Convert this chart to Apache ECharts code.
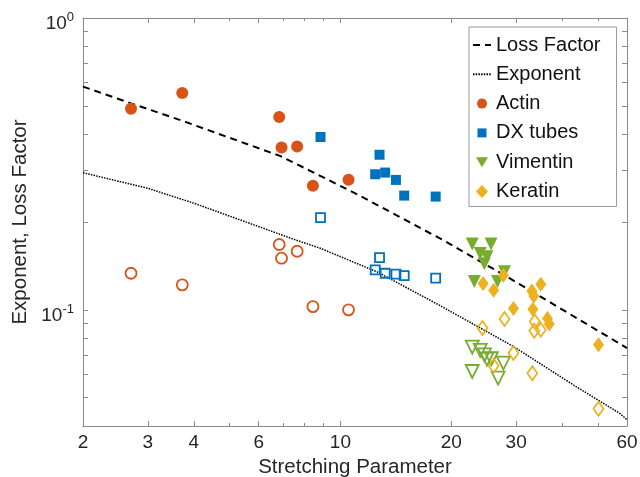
<!DOCTYPE html>
<html>
<head>
<meta charset="utf-8">
<script src="https://cdn.jsdelivr.net/npm/echarts@6/dist/echarts.min.js"></script>
<style>
html,body{margin:0;padding:0;background:#fff;}
#chart{width:640px;height:477px;}
</style>
</head>
<body>
<div id="chart"></div>
<script>
// ---- data ----
const xTickLabels = [2, 3, 4, 6, 10, 20, 30, 60];
const xMajorTicks = [3, 4, 6, 10, 20, 30];
const xMinorTicks = [5, 7, 8, 9, 40, 50];
const yTickValues = [0.05, 0.06, 0.07, 0.08, 0.09, 0.1, 0.2, 0.3, 0.4, 0.5, 0.6, 0.7, 0.8, 0.9];
const yTickLabels = [0.1, 1];

const lossX = [2, 2.7, 3.71, 6.85, 8.81, 11.3, 18.9, 28.3, 43, 60];
const lossY = [0.582, 0.51, 0.445, 0.337, 0.288, 0.246, 0.174, 0.130, 0.095, 0.074];
const expX = [2, 3, 4, 7.46, 8.81, 12.57, 18.5, 29.5, 43, 57.5, 60];
const expY = [0.295, 0.261, 0.232, 0.1746, 0.1626, 0.135, 0.104, 0.0749, 0.0552, 0.0441, 0.042];

const actinX = [2.70, 3.72, 6.82, 6.92, 7.63, 8.42, 10.52];
const actinLoss = [0.489, 0.553, 0.458, 0.360, 0.363, 0.266, 0.279];
const actinExp = [0.1335, 0.1218, 0.1675, 0.1503, 0.1588, 0.1026, 0.100];

const dxX = [8.83, 12.77, 12.43, 13.23, 14.15, 14.9, 18.14];
const dxLoss = [0.391, 0.340, 0.2915, 0.2954, 0.2788, 0.2463, 0.2444];
const dxExp = [0.207, 0.151, 0.137, 0.1335, 0.1325, 0.131, 0.1284];

const vimLossX = [22.8, 25.65, 23.97, 25.0, 24.6, 27.9, 23.1, 26.7];
const vimLoss = [0.168, 0.168, 0.156, 0.152, 0.144, 0.135, 0.125, 0.125];
const vimExpX = [22.8, 23.97, 24.6, 25.0, 25.7, 27.7, 22.8, 26.8];
const vimExp = [0.0745, 0.0726, 0.0701, 0.0678, 0.068, 0.0657, 0.0615, 0.0584];

const kerLossX = [24.4, 26.06, 27.7, 35.0, 33.1, 33.5, 33.3, 29.5, 36.5, 36.9, 50.2];
const kerLoss = [0.123, 0.1168, 0.1315, 0.1225, 0.116, 0.1115, 0.1005, 0.101, 0.0935, 0.0895, 0.0759];
const kerExpX = [24.3, 27.9, 33.7, 33.6, 35.0, 29.5, 26.06, 33.2, 50.2];
const kerExp = [0.0866, 0.0931, 0.0912, 0.0848, 0.0854, 0.0711, 0.0643, 0.0607, 0.0458];

// ---- styling ----
const C_ACTIN = '#D95319', C_DX = '#0072BD', C_VIM = '#77AC30', C_KER = '#EDB120';
const TXT = '#262626', AX = '#8a8a8a';
const FONT = 'Liberation Sans, Arial, sans-serif';

function zip(xs, ys) { return xs.map((x, i) => [x, ys[i]]); }

function xAx(pos, ticks, len, labels) {
  return {
    type: 'log', min: 2, max: 60, position: pos, gridIndex: 0,
    axisLine: { show: true, onZero: false, lineStyle: { color: AX, width: 1 } },
    axisTick: { show: true, inside: true, length: len, customValues: ticks, lineStyle: { color: AX } },
    axisLabel: labels ? {
      show: true, customValues: xTickLabels, fontSize: 19, color: TXT, fontFamily: FONT, margin: 7,
      formatter: v => String(Math.round(v))
    } : { show: false },
    splitLine: { show: false }, minorTick: { show: false }
  };
}
function yAx(pos, labels) {
  return {
    type: 'log', min: 0.04, max: 1, position: pos, gridIndex: 0,
    axisLine: { show: true, onZero: false, lineStyle: { color: AX, width: 1 } },
    axisTick: { show: true, inside: true, length: 5, customValues: yTickValues, lineStyle: { color: AX } },
    axisLabel: labels ? {
      show: true, customValues: yTickLabels, margin: 9, fontFamily: FONT, color: TXT,
      padding: [8, 0, 0, 0],
      formatter: v => Math.abs(v - 1) < 1e-9 ? '{b|10}{s|0}' : '{b|10}{s|-1}',
      rich: {
        b: { fontSize: 19, color: TXT, fontFamily: FONT, lineHeight: 22, verticalAlign: 'bottom' },
        s: { fontSize: 13, color: TXT, fontFamily: FONT, lineHeight: 22, verticalAlign: 'top' }
      }
    } : { show: false },
    splitLine: { show: false }, minorTick: { show: false }
  };
}

const xAxes = [xAx('bottom', xMajorTicks, 5, true), xAx('top', xMajorTicks, 5, false),
  xAx('bottom', xMinorTicks, 3, false), xAx('top', xMinorTicks, 3, false)];
Object.assign(xAxes[0], {
  name: 'Stretching Parameter', nameLocation: 'middle', nameGap: 27,
  nameTextStyle: { fontSize: 20.5, color: TXT, fontFamily: FONT }
});
xAxes[2].axisLine.show = false; xAxes[3].axisLine.show = false;

const yAxes = [yAx('left', true), yAx('right', false)];
Object.assign(yAxes[0], {
  name: 'Exponent, Loss Factor', nameLocation: 'middle', nameGap: 47,
  nameTextStyle: { fontSize: 20.5, color: TXT, fontFamily: FONT }
});

function filled(name, xs, ys, color, symbol, size, rot) {
  return {
    name, type: 'scatter', data: zip(xs, ys), symbol, symbolSize: size, symbolRotate: rot || 0,
    itemStyle: { color, opacity: 1 }, z: 4, xAxisIndex: 0, yAxisIndex: 0
  };
}
function open(name, xs, ys, color, symbol, size, rot) {
  return {
    name, type: 'scatter', data: zip(xs, ys), symbol, symbolSize: size, symbolRotate: rot || 0,
    itemStyle: { color: 'rgba(255,255,255,0)', borderColor: color, borderWidth: 1.8, opacity: 1 },
    z: 4, xAxisIndex: 0, yAxisIndex: 0
  };
}

// legend icon shapes inside an 18x14 box (corner moves fix the box)
const BOX = 'M0,0M18,14';
const option = {
  animation: false,
  backgroundColor: '#fff',
  grid: { left: 83, right: 13, top: 18, bottom: 51, containLabel: false, outerBoundsMode: 'none' },
  xAxis: xAxes,
  yAxis: yAxes,
  legend: {
    data: [
      { name: 'Loss Factor' },
      { name: 'Exponent' },
      { name: 'Actin', icon: 'path://' + BOX + 'M4,7a5,5 0 1,0 10,0a5,5 0 1,0 -10,0Z' },
      { name: 'DX tubes', icon: 'path://' + BOX + 'M4.5,2.5L13.5,2.5L13.5,11.5L4.5,11.5Z' },
      { name: 'Vimentin', icon: 'path://' + BOX + 'M3,2L15,2L9,12Z' },
      { name: 'Keratin', icon: 'path://' + BOX + 'M9,0.5L15,7L9,13.5L3,7Z' }
    ],
    orient: 'vertical', left: 469, top: 27,
    padding: [8, 16, 5, 3], itemGap: 9.3, itemWidth: 18, itemHeight: 14,
    symbolKeepAspect: true, symbolRotate: 0,
    borderColor: '#9a9a9a', borderWidth: 1, backgroundColor: '#fff',
    textStyle: { fontSize: 20, color: '#111', fontFamily: FONT, lineHeight: 20 },
    selectedMode: false
  },
  series: [
    { name: 'Loss Factor', type: 'line', data: zip(lossX, lossY), symbol: 'none', z: 2,
      lineStyle: { color: '#000', width: 2, type: [7, 5] }, itemStyle: { color: 'rgba(0,0,0,0)', borderWidth: 0 } },
    { name: 'Exponent', type: 'line', data: zip(expX, expY), symbol: 'none', z: 2,
      lineStyle: { color: '#000', width: 1.5, type: [1.5, 1.2] }, itemStyle: { color: 'rgba(0,0,0,0)', borderWidth: 0 } },
    filled('Actin', actinX, actinLoss, C_ACTIN, 'circle', 12),
    filled('DX tubes', dxX, dxLoss, C_DX, 'rect', 10),
    filled('Vimentin', vimLossX, vimLoss, C_VIM, 'triangle', 13, 180),
    filled('Keratin', kerLossX, kerLoss, C_KER, 'diamond', [11, 15]),
    open('Actin exponent', actinX, actinExp, C_ACTIN, 'circle', 11),
    open('DX tubes exponent', dxX, dxExp, C_DX, 'rect', 9),
    open('Vimentin exponent', vimExpX, vimExp, C_VIM, 'triangle', 13, 180),
    open('Keratin exponent', kerExpX, kerExp, C_KER, 'diamond', [10, 14])
  ]
};

const chart = echarts.init(document.getElementById('chart'), null, { renderer: 'canvas' });
chart.setOption(option);
</script>
</body>
</html>
